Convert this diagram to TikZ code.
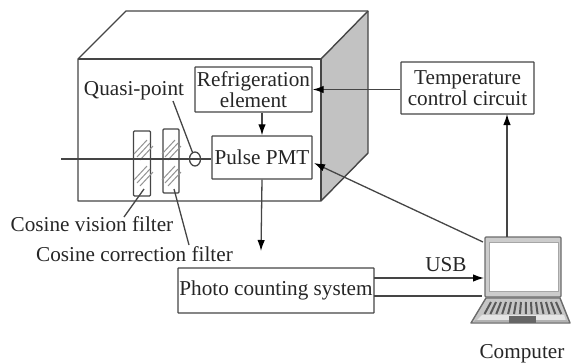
\documentclass[tikz,border=0pt]{standalone}
\usepackage{fontspec}
\setmainfont{Liberation Serif}
\usetikzlibrary{arrows.meta,shapes.geometric}

\definecolor{inkgray}{gray}{0.27}
\definecolor{sidegray}{gray}{0.76}
\tikzset{
  wire/.style={draw=inkgray,line width=1.3pt},
  arrowwire/.style={wire,-{Latex[length=11pt,width=7.5pt,color=black]}},
  blockbox/.style={draw=inkgray,line width=1.4pt,fill=white,rounded corners=0.5pt,inner sep=0pt,align=center,font=\fontsize{21.2}{21.5}\selectfont,text=black!85},
  filterbox/.style={blockbox,fill=white,rounded corners=1pt},
  hatchline/.style={draw=gray!85,line width=1pt},
  caption/.style={inner sep=0pt,font=\fontsize{21.2}{22}\selectfont,text=black!85},
  keyline/.style={draw=black!65,line width=2pt}
}

\begin{document}
\begin{tikzpicture}[x=1pt,y=-1pt]
\useasboundingbox (0,0) rectangle (571,362);

% housing
\fill[sidegray] (321,59) -- (368,12) -- (368,153) -- (321,201) -- cycle;
\draw[wire,line join=round,line width=1.4pt] (78,59) -- (126,11) -- (368,11) -- (368,153) -- (321,201) -- (78,201) -- cycle;
\draw[wire,line width=1.4pt] (78,59) -- (321,59) -- (321,201);
\draw[wire,line width=1.4pt] (321,59) -- (368,11);

% blocks
\node[blockbox,minimum width=117pt,minimum height=45pt] (refrig) at (253.5,89.5) {Refrigeration\\element};
\node[blockbox,minimum width=100pt,minimum height=43pt] (pmt) at (262,157.5) {Pulse PMT};
\node[blockbox,minimum width=133pt,minimum height=52pt] (temp) at (467.5,88) {Temperature\\control circuit};
\node[blockbox,minimum width=196pt,minimum height=45pt] (count) at (276,290.5) {Photo counting system};

% filters
\node[filterbox,minimum width=17pt,minimum height=65pt] (visionf) at (142,163.5) {};
\node[filterbox,minimum width=16pt,minimum height=64pt] (corrf) at (171,161) {};
\foreach \y in {0,26}{
  \foreach \d in {-3,0,3}{
    \draw[hatchline] (137+\d,157+\y+\d) -- (150+\d,143+\y+\d);
    \draw[hatchline] (165+\d,157+\y+\d) -- (178+\d,143+\y+\d);
  }
}

% quasi-point and axis
\node[draw=inkgray,line width=1.3pt,ellipse,minimum width=11pt,minimum height=14pt,inner sep=0pt] (quasi) at (195,159) {};
\coordinate (axis) at (61,159);
\draw[wire] (axis) -- (pmt.west |- axis);

% labels
\node[caption] (quasilabel) at (134,91) {Quasi-point};
\node[caption] (visionlabel) at (92,224) {Cosine vision filter};
\node[caption] (corrlabel) at (134.5,254) {Cosine correction filter};
\node[caption] (usb) at (446,265) {USB};
\node[caption] (pclabel) at (522,354) {Computer};

% laptop
\fill[gray!45,draw=gray!85!black,line width=1.4pt,line join=round] (486,298) -- (560,298) -- (570,323) -- (471,323) -- cycle;
\fill[gray!20] (482,315) -- (564,315) -- (566,321) -- (476,321) -- cycle;
\fill[gray!60] (475,320) -- (567,320) -- (568,322) -- (474,322) -- cycle;
\foreach \i in {0,...,13}{
  \draw[keyline] (491+\i*5,302) -- (484.5+\i*5.9,314);
}
\fill[black!60] (509,316) rectangle (536,323);
\node[draw=gray!85!black,line width=1.4pt,fill=gray!40,rounded corners=1pt,minimum width=76pt,minimum height=60pt,inner sep=0pt] (screen) at (523,267) {};
\node[draw=gray!70,line width=0.6pt,fill=white,minimum width=69pt,minimum height=49pt,inner sep=0pt] (display) at (523.5,266.5) {};

% connections
\coordinate (pcup) at (507,237);
\coordinate (tempin) at (507,114);
\coordinate (pmtin) at (314,163);
\coordinate (pcleft) at (483,242);
\coordinate (downend) at (261,251);
\coordinate (usbin) at (484,278);
\coordinate (usbout) at (374,278);
\coordinate (backin) at (482,296);
\coordinate (backout) at (374,296);
\coordinate (quasifrom) at (173,101);
\coordinate (visionfrom) at (144,189);
\coordinate (visionto) at (124,217);
\coordinate (corrfrom) at (174,189);
\coordinate (corrto) at (189,245);

\draw[arrowwire] (temp.west |- refrig.east) -- (refrig.east);
\draw[arrowwire] (refrig.south -| pmt.south) -- (pmt.north);
\draw[arrowwire] (pmt.south) -- (downend);
\draw[arrowwire] (pcup) -- (tempin);
\draw[arrowwire] (pcleft) -- (pmtin);
\draw[arrowwire] (usbout) -- (usbin);
\draw[wire] (backout) -- (backin);
\draw[wire] (quasifrom) -- (quasi);
\draw[wire] (visionfrom) -- (visionto);
\draw[wire] (corrfrom) -- (corrto);
\end{tikzpicture}
\end{document}
